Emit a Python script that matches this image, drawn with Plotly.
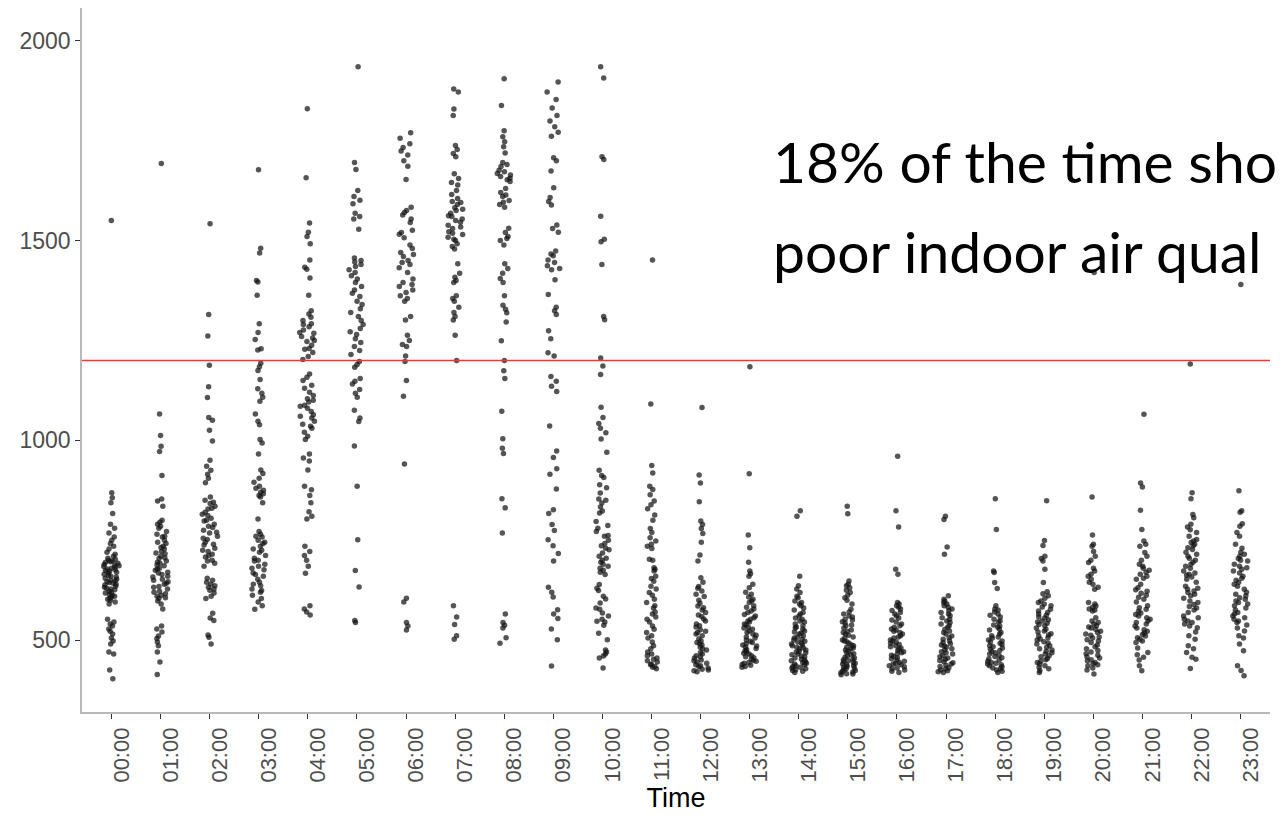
import plotly.graph_objects as go

# ---------------- data (CO2 ppm readings per hour of day) ----------------
hours = ["00:00", "01:00", "02:00", "03:00", "04:00", "05:00", "06:00", "07:00",
         "08:00", "09:00", "10:00", "11:00", "12:00", "13:00", "14:00", "15:00",
         "16:00", "17:00", "18:00", "19:00", "20:00", "21:00", "22:00", "23:00"]

h00 = [1550, 869, 856, 844, 817, 790, 780, 768, 758, 750, 742, 735, 728, 720, 715, 710, 705, 702,
       698, 695, 690, 688, 684, 680, 676, 672, 668, 665, 660, 655, 650, 646, 642, 638, 635, 630,
       626, 622, 618, 614, 610, 605, 600, 595, 590, 552, 545, 540, 535, 528, 522, 515, 505, 498,
       490, 470, 465, 425, 403,
       700, 696, 692, 686, 682, 678, 674, 670, 662, 658, 652, 648, 644, 640, 632, 628, 620, 612,
       608, 602]
h01 = [1693, 1066, 1012, 985, 972, 912, 853, 848, 835, 800, 795, 790, 780, 772, 765, 758, 750, 742,
       735, 728, 722, 716, 710, 704, 698, 692, 686, 680, 675, 670, 664, 658, 652, 646, 640, 634,
       628, 622, 616, 610, 604, 598, 590, 578, 535, 528, 520, 510, 504, 495, 486, 470, 445, 414,
       785, 760, 745, 732, 718, 706, 695, 688, 678, 668, 660, 650, 642, 632, 620, 612, 606]
h02 = [1542, 1315, 1261, 1188, 1134, 1107, 1057, 1050, 1025, 998, 950, 935, 925, 915, 905, 894, 858,
       850, 842, 835, 828, 820, 812, 805, 798, 790, 782, 775, 768, 760, 752, 745, 738, 730, 722,
       715, 708, 700, 692, 685, 650, 645, 640, 632, 625, 618, 610, 604, 567, 555, 549, 513, 507, 490,
       845, 830, 815, 800, 785, 770, 755, 740, 725, 712, 698, 655, 636, 628]
h03 = [1677, 1481, 1469, 1400, 1396, 1363, 1292, 1270, 1252, 1229, 1226, 1193, 1184, 1175, 1152,
       1129, 1118, 1108, 1098, 1066, 1048, 1039, 1002, 993, 966, 926, 917, 905, 895, 885, 875, 866,
       858, 844, 803, 772, 765, 758, 750, 742, 735, 728, 720, 712, 705, 698, 690, 685, 676, 668,
       660, 652, 645, 636, 628, 620, 612, 604, 595, 586, 577,
       880, 870, 862, 760, 745, 725, 700, 680, 664, 640, 624]
h04 = [1830, 1657, 1544, 1521, 1510, 1492, 1451, 1433, 1428, 1406, 1363, 1324, 1316, 1308, 1300,
       1292, 1284, 1276, 1268, 1260, 1256, 1247, 1238, 1228, 1220, 1210, 1202, 1166, 1158, 1150,
       1138, 1130, 1120, 1112, 1104, 1096, 1088, 1080, 1072, 1064, 1056, 1048, 1040, 1030, 1020,
       1010, 1002, 966, 956, 948, 926, 885, 876, 862, 844, 821, 810, 803, 735, 722, 712, 700, 685,
       667, 586, 578, 570, 563,
       1290, 1270, 1250, 1230, 1100, 1085, 1060, 1035]
h05 = [1935, 1695, 1678, 1625, 1610, 1601, 1592, 1568, 1560, 1554, 1528, 1456, 1450, 1446, 1440,
       1427, 1420, 1412, 1404, 1385, 1376, 1360, 1348, 1340, 1329, 1310, 1300, 1290, 1280, 1272,
       1254, 1245, 1235, 1225, 1197, 1190, 1183, 1155, 1148, 1141, 1127, 1118, 1108, 1075, 1056,
       1047, 986, 885, 751, 674, 633, 549, 544,
       1435, 1395, 1368, 1320, 1265, 1215]
h06 = [1770, 1756, 1742, 1733, 1724, 1714, 1700, 1686, 1653, 1583, 1575, 1564, 1554, 1526, 1516,
       1507, 1489, 1480, 1470, 1460, 1450, 1440, 1432, 1404, 1395, 1385, 1376, 1362, 1355, 1348,
       1310, 1301, 1263, 1250, 1240, 1235, 1211, 1197, 1150, 1110, 941, 605, 595, 544, 535, 525,
       1570, 1545, 1520, 1465, 1445, 1420, 1390, 1370]
h07 = [1879, 1872, 1829, 1813, 1738, 1728, 1718, 1710, 1667, 1655, 1645, 1639, 1625, 1615, 1605,
       1598, 1590, 1582, 1575, 1568, 1560, 1554, 1546, 1538, 1530, 1522, 1515, 1508, 1500, 1492,
       1485, 1479, 1442, 1418, 1408, 1400, 1395, 1362, 1355, 1348, 1333, 1320, 1310, 1301, 1263,
       1200, 586, 558, 539, 511, 502,
       1595, 1578, 1562, 1550, 1534, 1518, 1503]
h08 = [1905, 1838, 1775, 1760, 1747, 1735, 1719, 1695, 1685, 1676, 1668, 1660, 1652, 1648, 1630,
       1620, 1610, 1600, 1590, 1583, 1531, 1520, 1510, 1500, 1489, 1442, 1430, 1418, 1405, 1395,
       1362, 1338, 1328, 1319, 1296, 1249, 1200, 1174, 1155, 1073, 1004, 980, 967, 854, 831, 768,
       565, 544, 537, 530, 506, 492,
       1690, 1672, 1664, 1656, 1614, 1596, 1505]
h09 = [1897, 1872, 1853, 1832, 1813, 1799, 1785, 1771, 1761, 1707, 1700, 1674, 1632, 1608, 1598,
       1589, 1539, 1530, 1521, 1474, 1462, 1451, 1437, 1427, 1402, 1365, 1333, 1324, 1315, 1274,
       1254, 1219, 1211, 1160, 1148, 1135, 1122, 1036, 973, 957, 929, 915, 878, 826, 817, 789, 774,
       751, 736, 717, 698, 632, 620, 608, 576, 565, 554, 528, 501, 435,
       1466, 1445, 1430]
h10 = [1935, 1907, 1710, 1703, 1561, 1503, 1497, 1440, 1310, 1302, 1206, 1186, 1165, 1083, 1057,
       1042, 1030, 1019, 1003, 970, 925, 912, 907, 889, 881, 868, 853, 843, 833, 823, 818, 797, 787,
       780, 772, 762, 750, 742, 736, 726, 718, 710, 705, 695, 685, 675, 664, 639, 630, 624, 603,
       593, 577, 568, 560, 552, 547, 537, 517, 501, 475, 465, 455, 430,
       850, 760, 730, 700, 690, 680, 670, 610, 580, 545, 470, 460]
h11 = [1451, 1091, 937, 918, 885, 877, 864, 848, 839, 829, 813, 800, 779, 769, 756, 748, 740, 735,
       729, 702, 681, 677, 673, 654, 647, 635, 628, 619, 602, 594, 586, 565, 558, 552, 527, 519,
       511, 486, 478, 470, 461, 452, 445, 440, 434, 428,
       700, 660, 612, 580, 570, 545, 535, 505, 495, 465, 455, 448, 438, 432]
h12 = [1082, 913, 893, 846, 798, 789, 779, 767, 745, 713, 698, 656, 645, 634, 623, 609, 600, 592,
       581, 575, 569, 559, 548, 540, 533, 526, 519, 511, 503, 494, 488, 482, 475, 469, 461, 455,
       448, 442, 436, 430, 425, 421,
       630, 615, 585, 563, 553, 536, 522, 515, 498, 491, 478, 465, 458, 450, 445, 438, 433, 427, 423]
h13 = [1184, 916, 763, 731, 695, 673, 666, 660, 631, 615, 608, 602, 594, 586, 578, 569, 560, 552,
       545, 538, 532, 527, 519, 512, 505, 500, 494, 488, 482, 476, 470, 465, 461, 456, 452, 447,
       442, 437, 432,
       640, 620, 598, 582, 573, 564, 556, 548, 540, 530, 523, 515, 508, 497, 491, 485, 479, 473,
       467, 458, 449, 444, 439, 434]
h14 = [824, 810, 660, 636, 628, 619, 606, 598, 590, 586, 575, 569, 560, 552, 545, 540, 533, 527,
       520, 515, 511, 505, 500, 495, 490, 486, 482, 478, 472, 468, 463, 458, 452, 448, 444, 440,
       436, 432, 428, 424, 419,
       610, 594, 580, 565, 555, 548, 536, 530, 523, 517, 508, 502, 497, 492, 488, 480, 475, 470,
       465, 460, 455, 450, 446, 442, 438, 434, 430, 426, 422]
h15 = [835, 816, 648, 636, 631, 619, 606, 577, 565, 558, 550, 543, 536, 525, 519, 512, 505, 498,
       492, 486, 480, 478, 472, 466, 460, 455, 452, 448, 444, 440, 436, 432, 428, 424, 420, 416, 413,
       640, 625, 612, 600, 590, 570, 560, 552, 546, 538, 530, 522, 515, 508, 500, 495, 488, 482,
       475, 469, 463, 457, 450, 446, 442, 438, 434, 430, 426, 422, 418, 415]
h16 = [960, 824, 783, 677, 665, 594, 586, 578, 569, 560, 550, 540, 532, 525, 519, 511, 505, 498,
       492, 486, 480, 474, 468, 462, 456, 450, 444, 440, 436, 430, 425, 419,
       590, 582, 574, 565, 555, 545, 536, 528, 522, 515, 508, 500, 495, 489, 483, 477, 471, 465,
       459, 453, 447, 442, 438, 433, 428, 422]
h17 = [810, 802, 733, 715, 611, 602, 594, 586, 578, 569, 561, 552, 544, 536, 527, 519, 510, 502,
       494, 488, 482, 475, 468, 461, 455, 452, 446, 440, 434, 428, 423, 419,
       598, 590, 582, 574, 565, 556, 548, 540, 532, 523, 515, 506, 498, 491, 485, 478, 471, 465,
       458, 449, 443, 437, 431, 425, 421]
h18 = [854, 777, 673, 669, 644, 629, 586, 578, 570, 565, 558, 552, 545, 538, 532, 525, 519, 511,
       505, 498, 492, 486, 480, 474, 468, 462, 456, 450, 444, 440, 436, 430, 425, 419,
       575, 562, 548, 535, 528, 515, 508, 500, 495, 489, 483, 477, 471, 465, 459, 453, 447, 442,
       438, 433, 428, 422]
h19 = [849, 749, 737, 710, 704, 698, 677, 644, 621, 616, 611, 598, 590, 583, 577, 569, 562, 555,
       548, 542, 536, 527, 520, 513, 506, 500, 493, 486, 478, 472, 465, 458, 451, 444, 436, 428, 419,
       605, 594, 586, 573, 565, 558, 551, 545, 539, 530, 523, 516, 510, 503, 496, 490, 482, 475,
       468, 461, 454, 447, 440, 432, 424]
h20 = [1420, 858, 763, 740, 735, 722, 710, 694, 673, 665, 660, 652, 640, 627, 594, 585, 578, 573,
       548, 540, 533, 527, 519, 512, 505, 498, 478, 470, 462, 455, 448, 441, 436, 425, 415,
       700, 680, 645, 632, 590, 582, 575, 556, 544, 536, 530, 522, 515, 508, 501, 494, 488, 483,
       474, 466, 458, 451, 444, 438, 430]
h21 = [1065, 893, 883, 825, 777, 748, 740, 735, 719, 710, 690, 680, 670, 660, 652, 631, 622, 612,
       602, 586, 577, 568, 560, 552, 544, 535, 526, 518, 510, 502, 494, 469, 463, 457, 436, 423,
       700, 685, 675, 665, 655, 640, 626, 617, 607, 595, 581, 572, 564, 556, 548, 540, 530, 522,
       514, 506, 498, 480, 450]
h22 = [1191, 869, 854, 814, 806, 790, 783, 776, 769, 752, 744, 736, 727, 715, 705, 695, 685, 673,
       665, 658, 652, 635, 627, 619, 611, 598, 589, 580, 569, 556, 548, 540, 531, 511, 502, 486,
       478, 469, 457, 452, 429,
       760, 748, 740, 731, 720, 710, 700, 690, 680, 668, 662, 645, 630, 623, 615, 605, 594, 584,
       575, 560, 552, 544, 535, 520]
h23 = [1390, 874, 824, 820, 791, 785, 769, 760, 740, 710, 704, 698, 681, 673, 660, 650, 640, 627,
       611, 602, 594, 586, 569, 560, 552, 544, 523, 511, 473, 436, 424, 411,
       730, 720, 715, 700, 690, 685, 677, 668, 655, 645, 635, 620, 615, 606, 598, 590, 580, 575,
       565, 556, 548, 538, 530, 505, 490]

threshold = 1200
y_ticks = [500, 1000, 1500, 2000]
note_line1 = "18% of the time sho"
note_line2 = "poor indoor air qual"

# ---------------- figure ----------------
per_hour = [h00, h01, h02, h03, h04, h05, h06, h07, h08, h09, h10, h11,
            h12, h13, h14, h15, h16, h17, h18, h19, h20, h21, h22, h23]
xs, ys = [], []
for lab, vals in zip(hours, per_hour):
    xs += [lab] * len(vals)
    ys += vals

fig = go.Figure()
fig.add_trace(go.Box(
    x=xs, y=ys,
    boxpoints="all", jitter=0.66, pointpos=0, width=0.5,
    fillcolor="rgba(0,0,0,0)", line=dict(width=0, color="rgba(0,0,0,0)"),
    marker=dict(size=5.5, color="rgba(20,20,20,0.72)", line=dict(width=0)),
    hoveron="points", showlegend=False,
))

fig.add_hline(y=threshold, line=dict(color="#ff3030", width=1.5))

fig.add_annotation(x=13.43, y=1700, xref="x", yref="y", text=note_line1,
                   showarrow=False, xanchor="left", yanchor="middle",
                   font=dict(family="Lato", size=57, color="black"))
fig.add_annotation(x=13.43, y=1474, xref="x", yref="y", text=note_line2,
                   showarrow=False, xanchor="left", yanchor="middle",
                   font=dict(family="Lato", size=57, color="black"))

axis_line = "#b8b8b8"
fig.update_layout(
    width=1286, height=817,
    margin=dict(l=82, r=16, t=8, b=105),
    plot_bgcolor="white", paper_bgcolor="white",
    font=dict(family="Liberation Sans, Arial", color="#4d4d4d"),
    xaxis=dict(
        type="category", categoryorder="array", categoryarray=hours,
        range=[-0.6, 23.6], showgrid=False, zeroline=False,
        showline=True, linecolor=axis_line, linewidth=1.5,
        ticks="outside", ticklen=5, tickcolor="#333333", tickwidth=1,
        tickangle=-90, tickfont=dict(size=22, color="#4d4d4d"),
        ticklabelshift=10,
        title=dict(text="Time", font=dict(size=27, color="black"), standoff=4),
    ),
    yaxis=dict(
        range=[320, 2082], tickvals=y_ticks, showgrid=False, zeroline=False,
        showline=True, linecolor=axis_line, linewidth=1.5,
        ticks="outside", ticklen=5, tickcolor="#333333", tickwidth=1,
        tickfont=dict(size=23, color="#4d4d4d"),
    ),
)

fig.write_html(
    "out.html",
    config={"displayModeBar": False},
    post_script="document.body.style.margin='0';document.body.style.overflow='hidden';",
)
